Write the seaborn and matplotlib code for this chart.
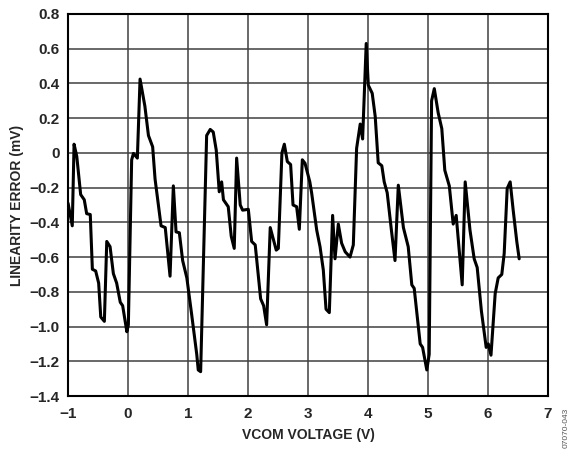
import matplotlib
matplotlib.use("Agg")
import matplotlib.pyplot as plt
import seaborn as sns
import pandas as pd

# -----------------------------
# data
# -----------------------------

vcom = [
    -1.0, -0.93, -0.9, -0.855, -0.79, -0.73, -0.69, -0.63, -0.595, -0.54,
    -0.49, -0.455, -0.395, -0.355, -0.30, -0.245, -0.19, -0.13, -0.09, -0.02,
    0.005, 0.06, 0.09, 0.155, 0.20, 0.28, 0.34, 0.41, 0.45, 0.48,
    0.55, 0.62, 0.70, 0.755, 0.80, 0.855, 0.91, 0.98, 1.06, 1.145,
    1.17, 1.21, 1.31, 1.37, 1.42, 1.47, 1.52, 1.56, 1.59, 1.67,
    1.72, 1.77, 1.81, 1.87, 1.91, 2.005, 2.06, 2.12, 2.21, 2.26,
    2.31, 2.37, 2.47, 2.505, 2.565, 2.605, 2.655, 2.71, 2.75, 2.81,
    2.855, 2.905, 2.95, 3.03, 3.06, 3.145, 3.2, 3.255, 3.30, 3.355,
    3.41, 3.45, 3.505, 3.56, 3.62, 3.70, 3.755, 3.81, 3.87, 3.91,
    3.97, 4.005, 4.07, 4.12, 4.17, 4.23, 4.27, 4.32, 4.39, 4.45,
    4.505, 4.59, 4.67, 4.73, 4.77, 4.87, 4.91, 4.98, 5.02, 5.06,
    5.105, 5.17, 5.23, 5.28, 5.355, 5.42, 5.47, 5.57, 5.62, 5.70,
    5.77, 5.82, 5.89, 5.97, 6.005, 6.05, 6.12, 6.17, 6.23, 6.27,
    6.32, 6.37, 6.42, 6.48, 6.52,
]

error_mv = [
    -0.29, -0.42, 0.05, -0.02, -0.24, -0.27, -0.35, -0.355, -0.67, -0.68,
    -0.75, -0.945, -0.97, -0.51, -0.54, -0.695, -0.75, -0.86, -0.88, -1.03,
    -0.99, -0.04, -0.003, -0.03, 0.425, 0.27, 0.10, 0.035, -0.15, -0.23,
    -0.42, -0.43, -0.71, -0.19, -0.455, -0.46, -0.62, -0.72, -0.93, -1.16,
    -1.25, -1.26, 0.10, 0.135, 0.12, 0.016, -0.224, -0.167, -0.27, -0.31,
    -0.48, -0.55, -0.03, -0.30, -0.33, -0.325, -0.51, -0.53, -0.84, -0.88,
    -0.99, -0.43, -0.56, -0.55, 0.0, 0.05, -0.05, -0.067, -0.30, -0.31,
    -0.44, -0.04, -0.06, -0.167, -0.23, -0.445, -0.54, -0.675, -0.90, -0.92,
    -0.36, -0.61, -0.41, -0.52, -0.57, -0.60, -0.53, 0.026, 0.166, 0.08,
    0.63, 0.39, 0.343, 0.21, -0.057, -0.074, -0.167, -0.23, -0.445, -0.62,
    -0.186, -0.43, -0.54, -0.76, -0.78, -1.10, -1.12, -1.25, -1.16, 0.30,
    0.37, 0.23, 0.14, -0.10, -0.19, -0.41, -0.36, -0.76, -0.167, -0.445,
    -0.61, -0.66, -0.91, -1.12, -1.10, -1.165, -0.81, -0.72, -0.70, -0.58,
    -0.205, -0.167, -0.33, -0.51, -0.61,
]

x_ticks = [-1, 0, 1, 2, 3, 4, 5, 6, 7]
x_labels = ["\u22121", "0", "1", "2", "3", "4", "5", "6", "7"]
y_ticks = [0.8, 0.6, 0.4, 0.2, 0, -0.2, -0.4, -0.6, -0.8, -1.0, -1.2, -1.4]
y_labels = ["0.8", "0.6", "0.4", "0.2", "0", "\u22120.2", "\u22120.4",
            "\u22120.6", "\u22120.8", "\u22121.0", "\u22121.2", "\u22121.4"]

df = pd.DataFrame({"vcom": vcom, "err": error_mv})

# -----------------------------
# plot
# -----------------------------

sns.set_style("white")
plt.rcParams["font.family"] = ["Liberation Sans", "DejaVu Sans"]

fig = plt.figure(figsize=(5.72, 4.5), dpi=100)
ax = fig.add_axes([0.119, 0.12, 0.839, 0.849])

sns.lineplot(
    data=df,
    x="vcom",
    y="err",
    sort=False,
    estimator=None,
    color="black",
    linewidth=2.2,
    ax=ax,
    zorder=3
)

ax.set_xlim(-1, 7)
ax.set_ylim(-1.4, 0.8)
ax.set_xticks(x_ticks)
ax.set_xticklabels(x_labels, fontsize=11, fontweight="bold")
ax.set_yticks(y_ticks)
ax.set_yticklabels(y_labels, fontsize=11, fontweight="bold")
ax.tick_params(axis="x", length=0, pad=8)
ax.tick_params(axis="y", length=0, pad=6)

ax.grid(True, color="#404040", linewidth=1.1)
ax.set_axisbelow(True)
for s in ax.spines.values():
    s.set_color("black")
    s.set_linewidth(1.5)

ax.set_xlabel("VCOM VOLTAGE (V)", fontsize=10, fontweight="bold", labelpad=5)
ax.set_ylabel("LINEARITY ERROR (mV)", fontsize=10, fontweight="bold", labelpad=4)

fig.text(0.99, 0.005, "07070-043", rotation=90, fontsize=6,
         color="#555555", ha="center", va="bottom")

fig.savefig("out.png", dpi=100)
